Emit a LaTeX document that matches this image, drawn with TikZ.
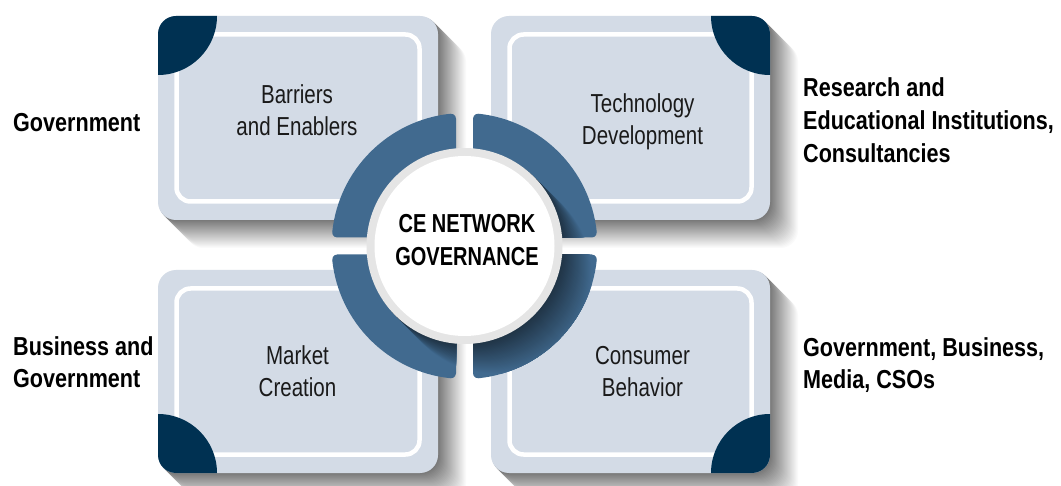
\documentclass[tikz,border=0pt]{standalone}
\usepackage{fontspec}
\setmainfont{Liberation Sans}
\newfontfamily\lblfont{Liberation Sans}[FakeStretch=0.83]
\newfontfamily\boxfont{Liberation Sans}[FakeStretch=0.79]
\newfontfamily\ctrfont{Liberation Sans}[FakeStretch=0.77]
\definecolor{boxc}{HTML}{D3DBE6}
\definecolor{navy}{HTML}{003152}
\definecolor{ringc}{HTML}{416A8F}
\definecolor{greyb}{HTML}{E5E5E5}
\definecolor{txtc}{HTML}{1A1A1A}
\newcommand\boxshadow[4]{%
  \foreach \s in {28,...,1}{%
    \pgfmathsetmacro\p{52*(1-(\s-1)/28)}%
    \fill[black!\p, rounded corners=18pt, shift={(\s,\s)}] (#1,#2) rectangle (#3,#4);}}
\newcommand\cebox[6]{%
  \begin{scope}
    \fill[boxc, rounded corners=18pt] (#1,#2) rectangle (#3,#4);
    \draw[white, line width=4.5pt, rounded corners=14pt] (#1+18.5,#2+18.5) rectangle (#3-18.5,#4-18.5);
    \clip[rounded corners=18pt] (#1,#2) rectangle (#3,#4);
    \fill[navy] (#5,#6) circle[radius=59];
  \end{scope}}
\def\segpath{(8.5,8.5) -- (8.5,127.286) arc[start angle=180, end angle=83.946, radius=5] arc[start angle=83.946, end angle=6.054, radius=133] arc[start angle=6.054, end angle=-90, radius=5] -- cycle}
\begin{document}
\begin{tikzpicture}[x=1pt,y=-1pt,
  lbl/.style={anchor=base west, align=left, inner sep=0pt, font=\lblfont\bfseries\fontsize{26}{31.5}\selectfont},
  lblwide/.style={lbl, font=\lblfont\bfseries\fontsize{26}{33}\selectfont},
  boxtxt/.style={anchor=base, align=center, inner sep=0pt, text=txtc, font=\boxfont\fontsize{26}{32}\selectfont},
  ctr/.style={anchor=base, align=center, inner sep=0pt, font=\ctrfont\bfseries\fontsize{26}{33}\selectfont}]
\useasboundingbox (0,0) rectangle (1061,486);
\fill[white] (0,0) rectangle (1061,486);
% shadows of boxes
\boxshadow{158}{16}{438}{220}
\boxshadow{491}{16}{770}{220}
\boxshadow{158}{270}{438}{473}
\boxshadow{491}{270}{770}{473}
% boxes
\cebox{158}{16}{438}{220}{158}{16}
\cebox{491}{16}{770}{220}{770}{16}
\cebox{158}{270}{438}{473}{158}{473}
\cebox{491}{270}{770}{473}{770}{473}
% box texts (anchor = baseline of last line)
\node[boxtxt] (tl) at (297,135.5) {Barriers\\and Enablers};
\node[boxtxt] (tr) at (642.5,145) {Technology\\Development};
\node[boxtxt] (bl) at (297.5,396) {Market\\Creation};
\node[boxtxt] (br) at (642.5,396) {Consumer\\Behavior};
% ring
\coordinate (c) at (464.5,246);
\foreach \a in {0,90,180,270}{
  \begin{scope}[shift={(464.5,246)}, rotate=\a]
    \fill[ringc] \segpath;
    \clip \segpath;
    \begin{scope}[rotate=-\a]
      \foreach \s in {30,...,1}{%
        \pgfmathsetmacro\q{50+50*(\s-1)/29}%
        \fill[ringc!\q!black] (\s,\s) circle[radius=98];}
    \end{scope}
  \end{scope}}
\fill[greyb] (c) circle[radius=98];
\fill[white] (c) circle[radius=90];
\node[ctr] (centre) at (467,266) {CE NETWORK\\GOVERNANCE};
% side labels
\node[lbl] (l1) at (13,131.5) {Government};
\node[lblwide] (r1) at (803,162.8) {Research and\\Educational Institutions,\\Consultancies};
\node[lbl] (l2) at (13,387.3) {Business and\\Government};
\node[lbl] (r2) at (803,388.3) {Government, Business,\\Media, CSOs};
\end{tikzpicture}
\end{document}
